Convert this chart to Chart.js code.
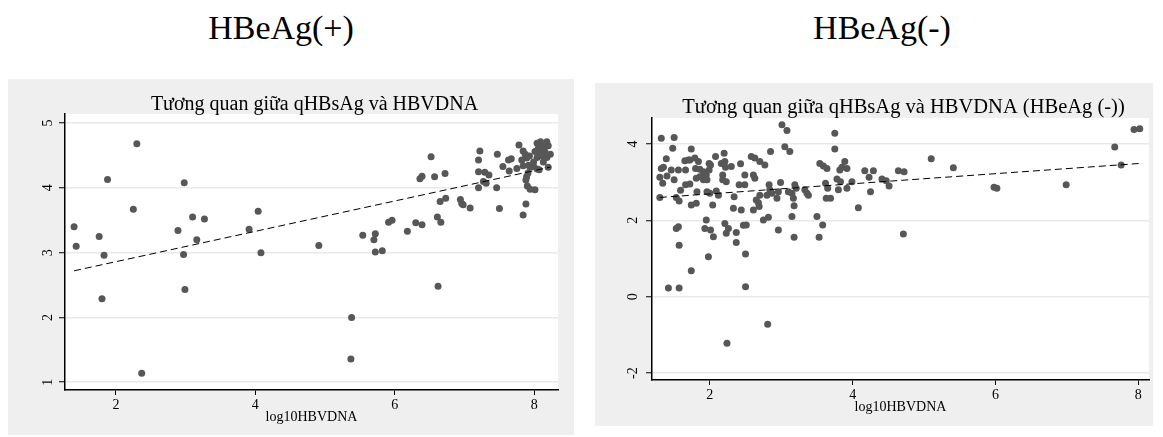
<!DOCTYPE html>
<html>
<head>
<meta charset="utf-8">
<script src="https://cdn.jsdelivr.net/npm/chart.js@4.4.1/dist/chart.umd.min.js"></script>
<style>
body { margin: 0; width: 1163px; height: 437px; background: #fff; position: relative; overflow: hidden; font-family: "Liberation Serif", "Times New Roman", serif; }
.heading { position: absolute; top: 11px; font-size: 34px; line-height: 34px; transform: translateX(-50%); white-space: nowrap; color: #000; }
canvas { position: absolute; }
</style>
</head>
<body>
<div class="heading" style="left:281px">HBeAg(+)</div>
<div class="heading" style="left:882px">HBeAg(-)</div>
<canvas id="chart-pos" width="566" height="356" style="left:8px;top:79px;width:566px;height:356px"></canvas>
<canvas id="chart-neg" width="558" height="343" style="left:595px;top:83px;width:558px;height:343px"></canvas>
<script>
// HBeAg(+) : log10HBVDNA vs qHBsAg
var posX = [1.40, 1.43, 1.76, 1.83, 1.88, 2.30, 2.25, 2.89, 2.98, 2.97, 3.10, 3.27, 3.16, 3.91, 4.04, 4.08,
    1.80, 2.99, 2.37, 4.91, 5.54, 5.72, 5.70, 5.72, 5.82, 5.91, 5.96, 6.18, 6.30, 6.39, 6.52, 6.36, 6.39,
    6.57, 6.72, 6.61, 6.66, 6.65, 6.73, 6.62, 5.38, 5.37, 6.94, 6.96, 6.98, 7.08, 7.22, 7.20, 7.20, 7.29,
    7.35, 7.27, 7.31, 7.20, 7.47, 7.46, 7.50, 7.55, 7.63, 7.67, 7.64, 7.75, 7.78, 7.84, 7.87, 7.82, 7.89,
    7.93, 7.84, 7.92, 7.94, 7.99, 8.04, 8.07, 7.89, 7.91, 7.88, 7.90, 7.94, 8.01, 7.88, 7.84, 8.04, 8.09,
    8.18, 8.06, 8.13, 8.20, 8.01, 8.08, 8.15, 8.23, 8.04, 8.11, 8.18, 8.20, 8.13, 7.99];
var posY = [3.40, 3.10, 3.25, 2.96, 4.13, 4.68, 3.67, 3.34, 4.08, 2.97, 3.55, 3.52, 3.20, 3.36, 3.64, 3.00,
    2.29, 2.43, 1.14, 3.11, 3.27, 3.29, 3.20, 3.01, 3.03, 3.47, 3.50, 3.33, 3.46, 3.43, 4.48, 4.14, 4.18,
    4.17, 4.22, 3.55, 3.47, 3.79, 3.84, 2.48, 2.00, 1.36, 3.82, 3.76, 3.74, 3.69, 4.57, 4.43, 4.25, 4.24,
    4.20, 4.10, 4.07, 4.00, 4.52, 4.00, 3.68, 4.33, 4.43, 4.45, 4.26, 4.30, 4.66, 4.57, 4.52, 4.43, 4.46,
    4.49, 4.34, 4.35, 4.32, 4.33, 4.29, 4.28, 4.17, 4.23, 4.12, 4.03, 3.98, 3.97, 3.75, 3.58, 4.69, 4.71,
    4.71, 4.61, 4.64, 4.65, 4.56, 4.54, 4.56, 4.52, 4.47, 4.49, 4.47, 4.32, 4.40, 4.40];
var posFitX = [1.40, 8.23];
var posFitY = [2.72, 4.32];
var posXRange = [1.27, 8.34];
var posYRange = [0.88, 5.14];
var posXTicks = [2, 4, 6, 8];
var posYTicks = [1, 2, 3, 4, 5];

// HBeAg(-)
var negX = [1.32, 1.50, 1.48, 1.39, 1.32, 1.35, 1.30, 1.34, 1.40, 1.46, 1.56, 1.50, 1.30, 1.53, 1.57, 1.59,
    1.56, 1.53, 1.57, 1.66, 1.65, 1.70, 1.74, 1.72, 1.66, 1.72, 1.74, 1.81, 1.79, 1.84, 1.80, 1.86, 1.81,
    1.86, 1.82, 1.91, 1.95, 1.99, 2.01, 1.96, 1.91, 1.99, 1.96, 2.00, 2.09, 2.04, 1.95, 1.93, 2.01, 2.05,
    1.98, 2.08, 2.16, 2.21, 2.20, 2.22, 2.18, 2.18, 2.23, 2.12, 2.21, 2.26, 2.23, 2.30, 2.34, 2.33, 2.44,
    2.37, 2.37, 2.43, 2.41, 2.49, 2.47, 2.51, 2.50, 2.49, 2.58, 2.63, 2.70, 2.61, 2.63, 2.61, 2.65, 2.68,
    2.70, 2.69, 2.77, 2.75, 2.82, 2.80, 2.87, 2.83, 2.84, 2.85, 2.94, 2.96, 2.96, 2.99, 3.01, 3.08, 3.05,
    3.12, 3.10, 3.15, 3.17, 3.15, 3.18, 3.18, 3.19, 3.21, 3.33, 3.36, 3.38, 3.50, 3.58, 3.53, 3.54, 3.59,
    3.64, 3.62, 3.65, 3.63, 3.69, 3.75, 3.75, 3.78, 3.80, 3.83, 3.82, 3.85, 3.89, 3.92, 3.92, 3.99, 4.08,
    4.17, 4.29, 4.23, 4.25, 4.41, 4.47, 4.51, 4.64, 4.72, 4.71, 5.10, 5.41, 5.98, 6.02, 6.99, 7.67, 7.76,
    7.94, 8.02, 1.74, 1.42, 1.57, 2.50, 2.81, 2.24];
var negY = [4.15, 4.17, 3.89, 3.61, 3.36, 3.39, 3.13, 2.97, 3.16, 3.32, 3.32, 3.06, 2.60, 2.60, 2.51, 2.79,
    1.83, 1.79, 1.35, 3.32, 3.56, 3.58, 3.87, 3.58, 2.93, 2.95, 2.40, 2.45, 3.63, 3.54, 3.36, 3.34, 3.10,
    3.14, 2.75, 3.27, 3.19, 3.32, 3.45, 3.06, 3.06, 3.49, 2.75, 2.71, 2.77, 2.40, 2.01, 1.79, 1.75, 1.57,
    1.05, 3.67, 3.49, 3.54, 3.76, 3.39, 3.19, 3.06, 3.01, 2.66, 1.92, 1.79, 1.66, 3.41, 2.62, 2.32, 2.27,
    1.68, 1.42, 3.48, 2.93, 2.93, 1.87, 1.88, 1.12, 3.19, 3.67, 3.63, 3.54, 3.19, 3.10, 2.27, 2.53, 2.46,
    2.66, 2.36, 3.45, 2.01, 2.08, 2.66, 2.71, 2.93, 2.80, 3.80, 2.58, 2.75, 1.75, 2.99, 4.50, 4.35, 3.93,
    3.80, 2.75, 2.71, 2.58, 2.10, 2.38, 1.56, 2.93, 2.84, 2.80, 2.71, 2.66, 2.10, 1.88, 1.56, 3.49, 3.42,
    3.36, 2.97, 2.84, 2.58, 2.58, 4.28, 3.87, 3.08, 2.80, 3.01, 3.32, 3.39, 3.54, 3.36, 2.84, 3.01, 2.33,
    3.30, 3.30, 3.13, 2.75, 3.08, 3.04, 2.90, 3.30, 3.27, 1.64, 3.61, 3.38, 2.87, 2.84, 2.93, 3.92, 3.45,
    4.38, 4.40, 0.68, 0.23, 0.23, 0.26, -0.72, -1.22];
var negFitX = [1.30, 8.02];
var negFitY = [2.60, 3.49];
var negXRange = [1.19, 8.15];
var negYRange = [-2.18, 4.68];
var negXTicks = [2, 4, 6, 8];
var negYTicks = [-2, 0, 2, 4];

var SERIF = '"Liberation Serif", "Times New Roman", serif';

var toPoints = function (xs, ys) {
    var pts = [];
    for (var i = 0; i < xs.length; ++i) {
        pts.push({ x: xs[i], y: ys[i] });
    }
    return pts;
};

// grey outer region, white plot region, title, axis title, rotated y labels
var stataFrame = {
    id: 'stataFrame',
    beforeDraw: function (chart) {
        var ctx = chart.ctx, a = chart.chartArea;
        ctx.save();
        ctx.fillStyle = '#efefef';
        ctx.fillRect(0, 0, chart.width, chart.height);
        ctx.fillStyle = '#ffffff';
        ctx.fillRect(a.left, a.top, a.right - a.left, a.bottom - a.top);
        ctx.restore();
    },
    afterDraw: function (chart, args, opts) {
        var ctx = chart.ctx, a = chart.chartArea, yScale = chart.scales.y;
        var cx = (a.left + a.right) / 2;
        ctx.save();
        ctx.fillStyle = '#000';
        ctx.textAlign = 'center';
        ctx.textBaseline = 'alphabetic';
        ctx.font = opts.titleSize + 'px ' + SERIF;
        ctx.fillText(opts.title, cx + opts.titleShift, opts.titleY);
        ctx.font = '14px ' + SERIF;
        ctx.textBaseline = 'middle';
        ctx.fillText(opts.xTitle, cx, a.bottom + opts.xTitleGap);
        yScale.ticks.forEach(function (t) {
            var py = yScale.getPixelForValue(t.value);
            ctx.save();
            ctx.translate(a.left - opts.yLabelGap, py);
            ctx.rotate(-Math.PI / 2);
            ctx.fillText(String(t.value), 0, 0);
            ctx.restore();
        });
        ctx.restore();
    }
};

var makeChart = function (id, cfg) {
    var ctx = document.getElementById(id);
    return new Chart(ctx, {
        type: 'scatter',
        data: {
            datasets: [{
                data: toPoints(cfg.fitX, cfg.fitY),
                showLine: true,
                borderColor: '#000',
                borderWidth: 1,
                borderDash: [7, 4],
                pointRadius: 0,
                fill: false
            }, {
                data: toPoints(cfg.xs, cfg.ys),
                pointRadius: 3.5,
                pointBackgroundColor: '#575757',
                pointBorderWidth: 0,
                showLine: false
            }]
        },
        options: {
            responsive: false,
            animation: false,
            devicePixelRatio: 1,
            layout: { padding: { top: cfg.top, right: cfg.right, left: 0, bottom: 0 } },
            plugins: {
                legend: { display: false },
                tooltip: { enabled: false },
                stataFrame: {
                    title: cfg.title,
                    titleSize: cfg.titleSize,
                    titleShift: 3,
                    titleY: cfg.titleY,
                    xTitle: 'log10HBVDNA',
                    xTitleGap: 27,
                    yLabelGap: cfg.yLabelGap
                }
            },
            scales: {
                x: {
                    type: 'linear',
                    min: cfg.xRange[0],
                    max: cfg.xRange[1],
                    afterBuildTicks: function (scale) {
                        scale.ticks = cfg.xTicks.map(function (v) { return { value: v }; });
                    },
                    afterFit: function (scale) { scale.height = cfg.bottom; },
                    border: { display: true, color: '#000', width: 1.5 },
                    grid: { drawOnChartArea: false, drawTicks: true, tickLength: 5, tickColor: '#000', tickWidth: 1 },
                    ticks: { color: '#000', padding: 2, maxRotation: 0, font: { family: SERIF, size: 14 } }
                },
                y: {
                    type: 'linear',
                    min: cfg.yRange[0],
                    max: cfg.yRange[1],
                    afterBuildTicks: function (scale) {
                        scale.ticks = cfg.yTicks.map(function (v) { return { value: v }; });
                    },
                    afterFit: function (scale) { scale.width = cfg.left; },
                    border: { display: true, color: '#000', width: 1.5 },
                    grid: { color: '#e9e9e9', lineWidth: 1.5, drawTicks: true, tickLength: 6, tickColor: '#000', tickWidth: 1 },
                    ticks: { display: false }
                }
            }
        },
        plugins: [stataFrame]
    });
};

makeChart('chart-pos', {
    xs: posX, ys: posY, fitX: posFitX, fitY: posFitY,
    xRange: posXRange, yRange: posYRange, xTicks: posXTicks, yTicks: posYTicks,
    title: 'Tương quan giữa qHBsAg và HBVDNA', titleSize: 20, titleY: 31,
    top: 35, right: 16, bottom: 45, left: 57, yLabelGap: 17
});

makeChart('chart-neg', {
    xs: negX, ys: negY, fitX: negFitX, fitY: negFitY,
    xRange: negXRange, yRange: negYRange, xTicks: negXTicks, yTicks: negYTicks,
    title: 'Tương quan giữa qHBsAg và HBVDNA (HBeAg (-))', titleSize: 20.5, titleY: 30,
    top: 35, right: 4, bottom: 46, left: 57, yLabelGap: 19
});
</script>
</body>
</html>
